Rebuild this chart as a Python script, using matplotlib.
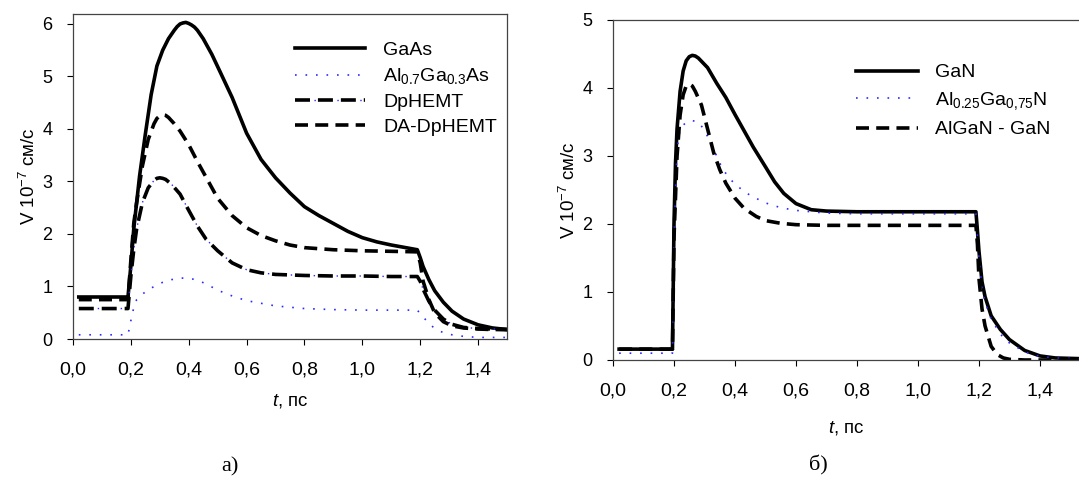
import matplotlib
matplotlib.use('Agg')
import matplotlib.pyplot as plt
from matplotlib.legend_handler import HandlerTuple

plt.rcParams.update({
    'font.family': ['Liberation Sans', 'DejaVu Sans'],
    'font.size': 13,
    'mathtext.fontset': 'custom',
    'mathtext.rm': 'Liberation Sans',
    'mathtext.it': 'Liberation Sans:italic',
    'mathtext.bf': 'Liberation Sans:bold',
    'xtick.direction': 'out',
    'ytick.direction': 'out',
})

# ---- panel a) ----
t_gaas = [0.02, 0.19, 0.20, 0.21, 0.23, 0.25, 0.27, 0.29, 0.31, 0.33, 0.35, 0.36, 0.37, 0.38,
          0.39, 0.40, 0.41, 0.42, 0.43, 0.45, 0.48, 0.51, 0.55, 0.60, 0.65, 0.70, 0.75, 0.80,
          0.85, 0.90, 0.95, 1.00, 1.05, 1.10, 1.15, 1.19, 1.20, 1.21, 1.23, 1.25, 1.28, 1.31,
          1.35, 1.40, 1.45, 1.50]
v_gaas = [0.80, 0.80, 1.40, 2.10, 3.10, 3.90, 4.65, 5.20, 5.50, 5.72, 5.88, 5.95, 6.00, 6.02,
          6.03, 6.01, 5.98, 5.94, 5.88, 5.72, 5.42, 5.07, 4.60, 3.92, 3.42, 3.07, 2.78, 2.52,
          2.35, 2.20, 2.05, 1.93, 1.85, 1.79, 1.74, 1.70, 1.55, 1.38, 1.13, 0.92, 0.70, 0.53,
          0.38, 0.27, 0.21, 0.18]

t_algaas = [0.02, 0.19, 0.20, 0.21, 0.22, 0.25, 0.28, 0.31, 0.34, 0.37, 0.40, 0.43, 0.46, 0.50,
            0.55, 0.60, 0.70, 0.80, 0.90, 1.00, 1.10, 1.19, 1.21, 1.23, 1.25, 1.28, 1.31, 1.35,
            1.40, 1.45, 1.50]
v_algaas = [0.08, 0.08, 0.35, 0.60, 0.75, 0.90, 1.00, 1.08, 1.13, 1.16, 1.16, 1.12, 1.05, 0.93,
            0.82, 0.73, 0.63, 0.58, 0.56, 0.55, 0.55, 0.55, 0.42, 0.30, 0.20, 0.12, 0.08, 0.05,
            0.03, 0.03, 0.03]

t_dp = [0.02, 0.19, 0.20, 0.21, 0.22, 0.24, 0.26, 0.28, 0.29, 0.30, 0.31, 0.32, 0.34, 0.37,
        0.40, 0.43, 0.46, 0.50, 0.55, 0.60, 0.65, 0.70, 0.80, 0.90, 1.00, 1.10, 1.19, 1.20,
        1.21, 1.23, 1.25, 1.28, 1.31, 1.35, 1.40, 1.45, 1.50]
v_dp = [0.58, 0.58, 1.20, 1.70, 2.10, 2.60, 2.88, 3.02, 3.06, 3.07, 3.06, 3.04, 2.95, 2.76,
        2.45, 2.15, 1.90, 1.68, 1.45, 1.32, 1.26, 1.23, 1.21, 1.20, 1.20, 1.19, 1.19, 1.10,
        0.95, 0.72, 0.55, 0.38, 0.28, 0.22, 0.20, 0.19, 0.18]

t_da = [0.02, 0.19, 0.20, 0.21, 0.22, 0.24, 0.26, 0.28, 0.29, 0.30, 0.31, 0.32, 0.33, 0.35,
        0.37, 0.40, 0.43, 0.46, 0.50, 0.55, 0.60, 0.65, 0.70, 0.75, 0.80, 0.90, 1.00, 1.10,
        1.19, 1.20, 1.21, 1.23, 1.25, 1.28, 1.31, 1.35, 1.40, 1.45, 1.50]
v_da = [0.75, 0.75, 1.50, 2.20, 2.60, 3.30, 3.80, 4.10, 4.20, 4.25, 4.27, 4.26, 4.22, 4.10,
        3.96, 3.70, 3.38, 3.08, 2.68, 2.35, 2.12, 1.97, 1.87, 1.79, 1.74, 1.70, 1.68, 1.67,
        1.66, 1.45, 1.10, 0.75, 0.50, 0.33, 0.25, 0.21, 0.19, 0.18, 0.18]

# ---- panel б) ----
t_gan = [0.02, 0.195, 0.20, 0.205, 0.21, 0.22, 0.23, 0.24, 0.25, 0.26, 0.27, 0.28, 0.31, 0.34,
         0.37, 0.40, 0.43, 0.46, 0.50, 0.53, 0.56, 0.60, 0.65, 0.70, 0.80, 1.00, 1.19, 1.195,
         1.20, 1.21, 1.22, 1.24, 1.27, 1.30, 1.35, 1.40, 1.45, 1.53]
v_gan = [0.16, 0.16, 2.00, 2.90, 3.40, 3.95, 4.25, 4.40, 4.46, 4.48, 4.47, 4.44, 4.30, 4.07,
         3.86, 3.61, 3.37, 3.13, 2.84, 2.62, 2.45, 2.30, 2.21, 2.19, 2.18, 2.18, 2.18, 1.90,
         1.60, 1.15, 0.93, 0.65, 0.45, 0.30, 0.14, 0.06, 0.03, 0.02]

t_algan = [0.02, 0.195, 0.20, 0.21, 0.22, 0.24, 0.26, 0.28, 0.30, 0.33, 0.36, 0.40, 0.45, 0.50,
           0.55, 0.60, 0.70, 0.80, 1.00, 1.19, 1.20, 1.21, 1.22, 1.24, 1.27, 1.30, 1.35, 1.40,
           1.45, 1.53]
v_algan = [0.10, 0.10, 1.80, 3.10, 3.40, 3.50, 3.52, 3.50, 3.38, 3.10, 2.80, 2.58, 2.42, 2.31,
           2.24, 2.20, 2.16, 2.15, 2.15, 2.15, 1.50, 1.05, 0.85, 0.60, 0.38, 0.25, 0.12, 0.05,
           0.03, 0.02]

t_het = [0.02, 0.195, 0.20, 0.21, 0.22, 0.23, 0.24, 0.25, 0.26, 0.27, 0.29, 0.31, 0.33, 0.35,
         0.37, 0.40, 0.43, 0.47, 0.50, 0.55, 0.60, 0.70, 0.80, 1.00, 1.19, 1.195, 1.20, 1.21,
         1.22, 1.24, 1.26, 1.28, 1.30, 1.35, 1.40, 1.53]
v_het = [0.16, 0.16, 1.80, 3.00, 3.60, 3.90, 4.03, 4.06, 4.03, 3.95, 3.75, 3.40, 3.05, 2.80,
         2.60, 2.38, 2.23, 2.11, 2.05, 2.01, 1.99, 1.98, 1.98, 1.98, 1.98, 1.70, 1.20, 0.75,
         0.50, 0.20, 0.08, 0.03, 0.01, 0.00, 0.00, 0.00]

x_ticks = [0.0, 0.2, 0.4, 0.6, 0.8, 1.0, 1.2, 1.4]
x_ticklabels = ['0,0', '0,2', '0,4', '0,6', '0,8', '1,0', '1,2', '1,4']

LW = 2.6
solid = dict(color='black', lw=LW, ls='-')
dotted = dict(color='#2b2bff', lw=1.2, ls=(0, (1, 5.3)))
dashed = dict(color='black', lw=LW, ls=(0, (3.6, 2.0)))
dash_blk = dict(color='black', lw=LW, ls=(0, (4.15, 2.2)))
# blue dot sitting in the middle of each gap of dash_blk
dash_dot = dict(color='#2b2bff', lw=1.0, ls=(2.85, (1.0, 15.5)))

fig = plt.figure(figsize=(10.79, 4.79), dpi=100)
ax1 = fig.add_axes([73 / 1079, 1 - 339 / 479, 434 / 1079, 325 / 479])
ax2 = fig.add_axes([613 / 1079, 1 - 360 / 479, 466 / 1079, 340 / 479])

h1, = ax1.plot(t_gaas, v_gaas, **solid)
h2, = ax1.plot(t_algaas, v_algaas, **dotted)
h3a, = ax1.plot(t_dp, v_dp, **dash_blk)
h3b, = ax1.plot(t_dp, v_dp, **dash_dot)
h4, = ax1.plot(t_da, v_da, **dashed)
ax1.set_xlim(0, 1.5)
ax1.set_ylim(0, 6.19)
ax1.set_yticks([0, 1, 2, 3, 4, 5, 6])
ax1.legend([h1, h2, (h3a, h3b), h4],
           ['GaAs', r'Al$_{0.7}$Ga$_{0.3}$As', 'DpHEMT', 'DA-DpHEMT'],
           handler_map={tuple: HandlerTuple(ndivide=1, pad=0)},
           loc='upper left', bbox_to_anchor=(0.49, 0.945), frameon=False, fontsize=14,
           handlelength=3.6, handletextpad=0.9, labelspacing=0.37, borderpad=0)

ax2.plot(t_gan, v_gan, label='GaN', **solid)
ax2.plot(t_algan, v_algan, label=r'Al$_{0.25}$Ga$_{0{,}75}$N', **dotted)
ax2.plot(t_het, v_het, label='AlGaN - GaN', **dashed)
ax2.set_xlim(0, 1.528)
ax2.set_ylim(0, 5)
ax2.set_yticks([0, 1, 2, 3, 4, 5])
ax2.spines['right'].set_visible(False)
ax2.legend(loc='upper left', bbox_to_anchor=(0.50, 0.90), frameon=False, fontsize=14,
           handlelength=3.2, handletextpad=0.9, labelspacing=0.45, borderpad=0)

for ax in (ax1, ax2):
    ax.set_xticks(x_ticks)
    ax.set_xticklabels(x_ticklabels)
    ax.tick_params(axis='x', labelsize=14, length=4, width=0.8, pad=12)
    ax.tick_params(axis='y', labelsize=13, length=4, width=0.8, pad=11)
    for sp in ax.spines.values():
        sp.set_linewidth(0.9)
        sp.set_color('#444444')
    ax.set_ylabel(r'V 10$^{-7}$ см/с', fontsize=13.5, labelpad=2)

ax1.set_xlabel(r'$\mathit{t}$, пс', fontsize=13.5, labelpad=10)
ax2.set_xlabel(r'$\mathit{t}$, пс', fontsize=13.5, labelpad=14)

fig.text(230 / 1079, 1 - 467 / 479, 'а)', family='Liberation Serif', fontsize=16,
         ha='center', va='center')
fig.text(818 / 1079, 1 - 465 / 479, 'б)', family='Liberation Serif', fontsize=16,
         ha='center', va='center')

fig.savefig('out.png', dpi=100, facecolor='white')
